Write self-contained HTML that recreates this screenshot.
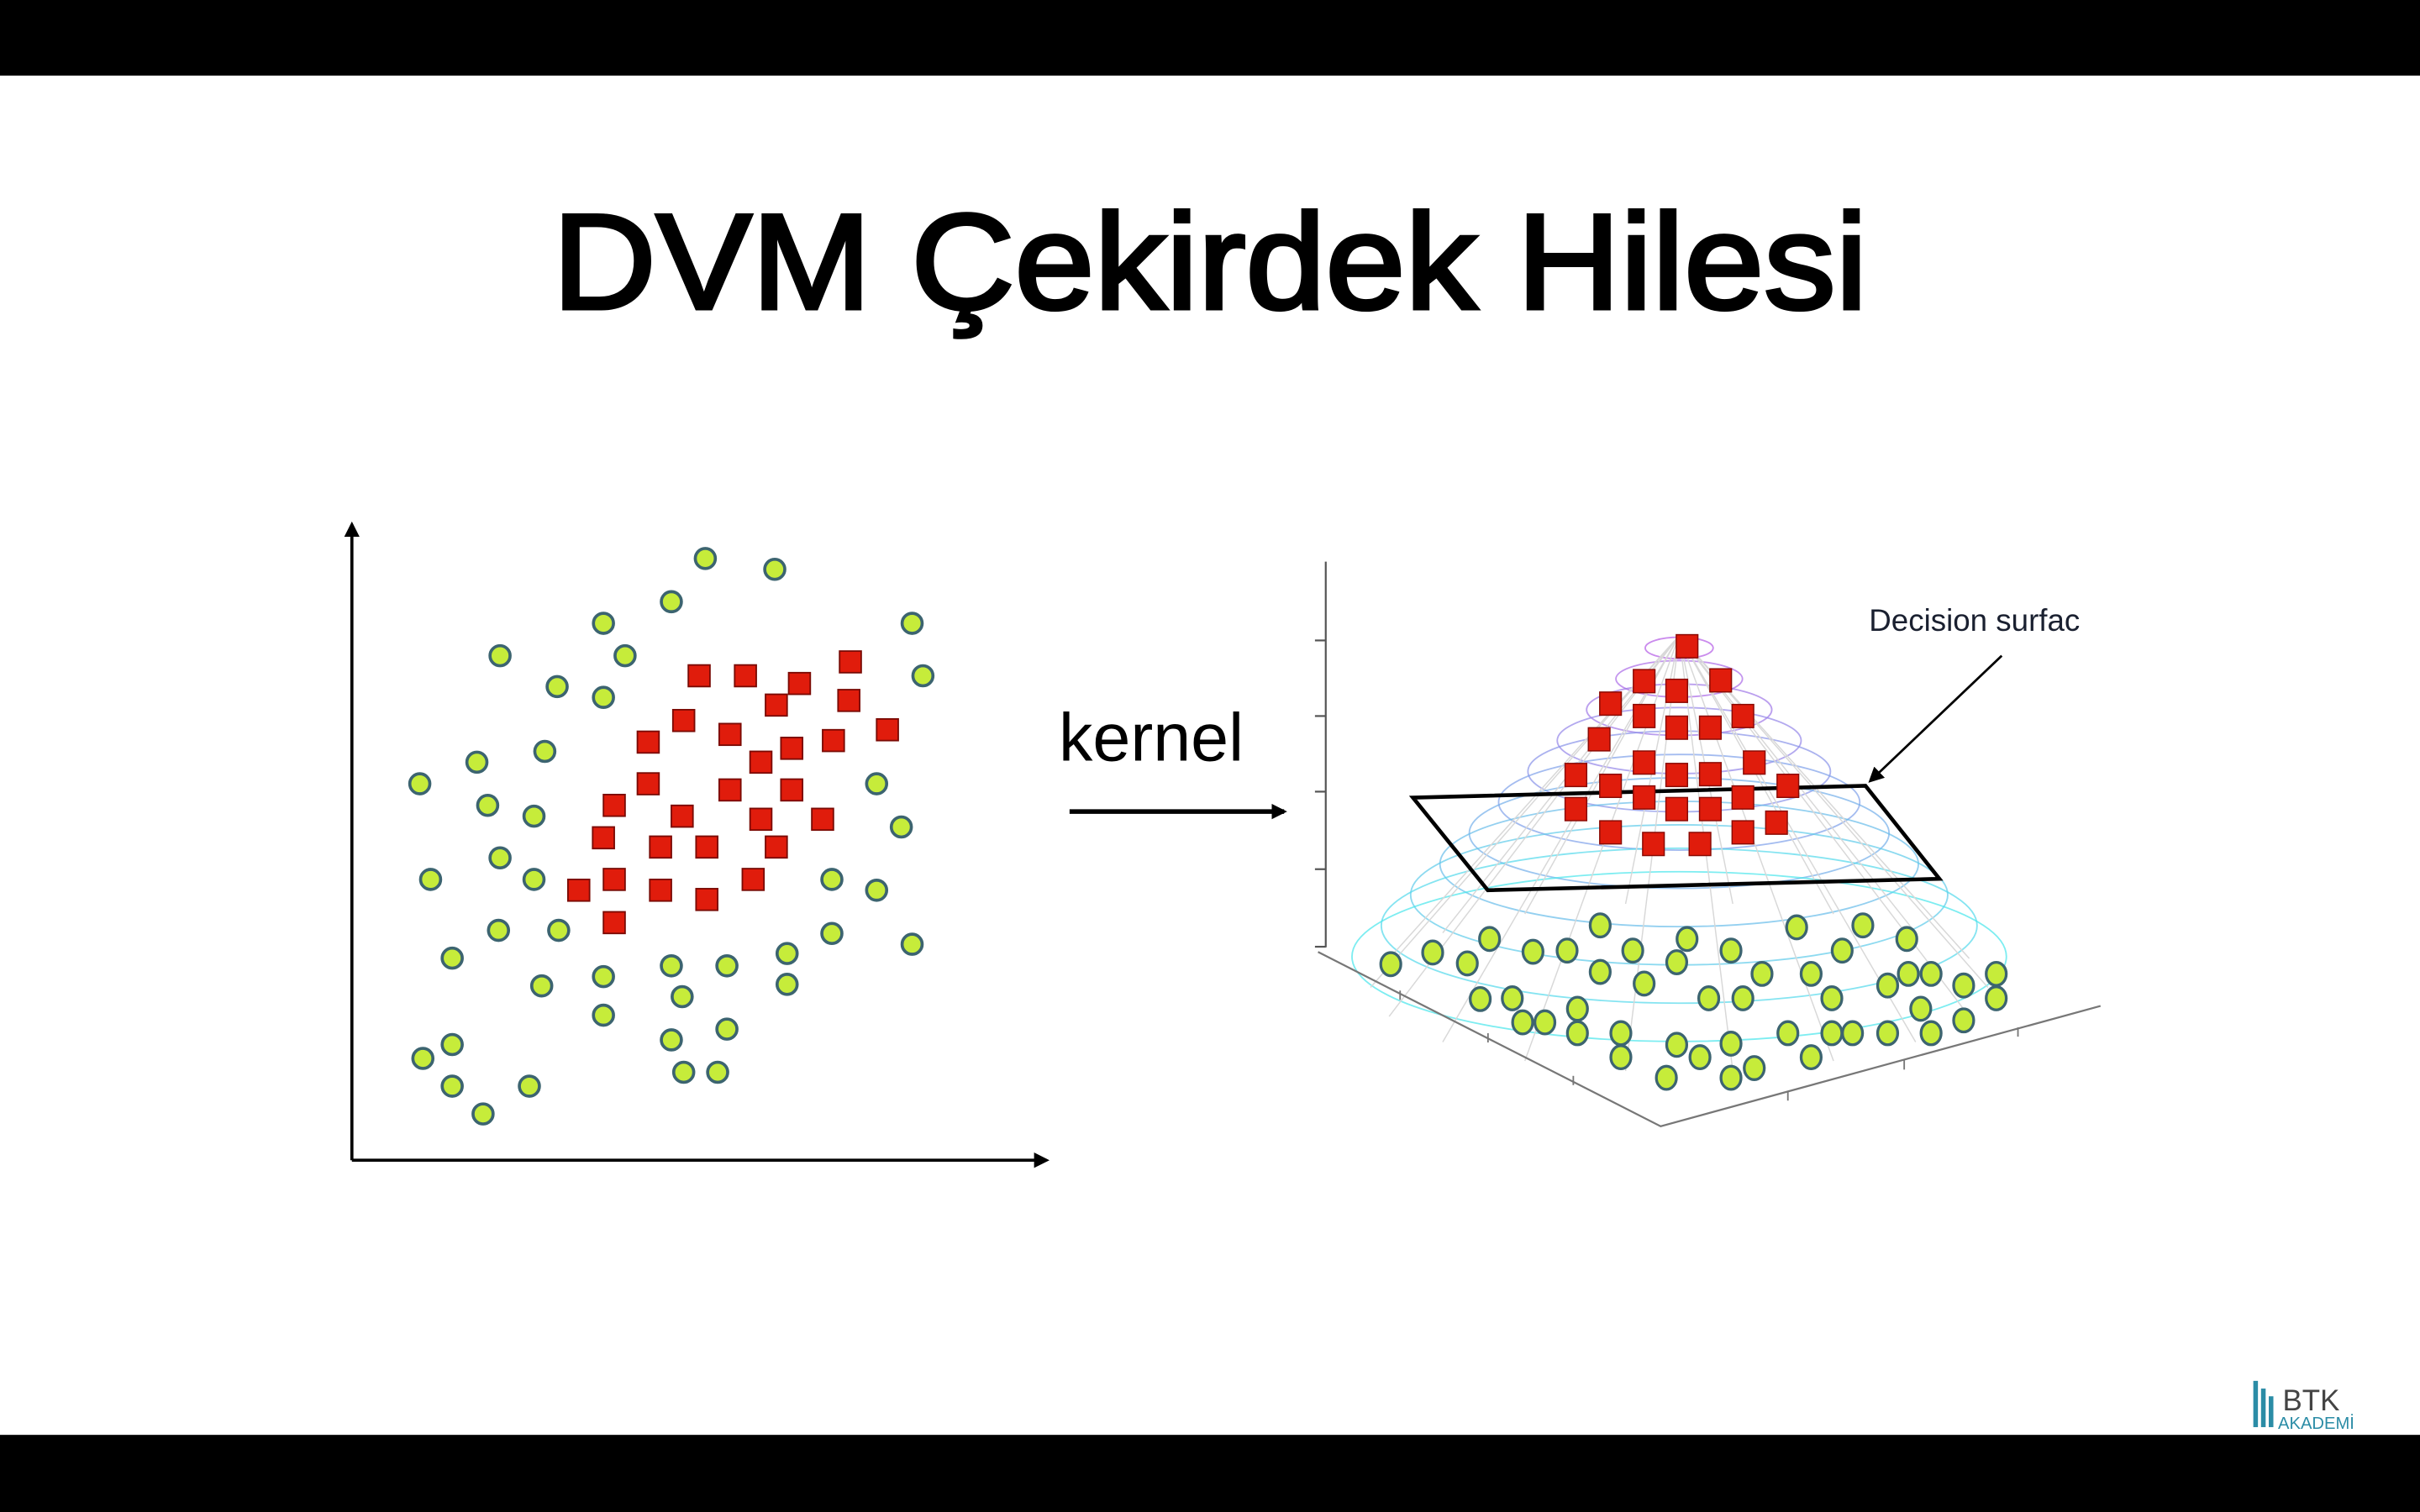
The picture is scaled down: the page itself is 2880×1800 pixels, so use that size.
<!DOCTYPE html>
<html><head><meta charset="utf-8">
<style>
html,body{margin:0;padding:0;background:#fff;}
svg{display:block;}
</style></head>
<body>
<svg id="root" xmlns="http://www.w3.org/2000/svg" width="2880" height="1800" viewBox="0 0 1568 980">
  <defs>
    <marker id="ah" markerWidth="10" markerHeight="10" refX="8" refY="5" orient="auto" markerUnits="userSpaceOnUse"><path d="M0,0 L10,5 L0,10 z" fill="#000"/></marker>
  </defs>
  <rect x="0" y="0" width="1568" height="980" fill="#fff"/>
  <rect x="0" y="0" width="1568" height="49" fill="#000"/>
  <rect x="0" y="930" width="1568" height="50" fill="#000"/>
  <text x="358" y="200" textLength="852" lengthAdjust="spacingAndGlyphs" font-family="'Liberation Sans', sans-serif" font-size="88" fill="#000" stroke="#000" stroke-width="2.4">DVM Çekirdek Hilesi</text>

  <g id="left">
    <line x1="228" y1="752" x2="228" y2="340" stroke="#000" stroke-width="2" marker-end="url(#ah)"/>
    <line x1="228" y1="752" x2="678" y2="752" stroke="#000" stroke-width="2" marker-end="url(#ah)"/>
  </g>

  <text x="686" y="493" font-family="'Liberation Sans', sans-serif" font-size="44" fill="#000">kernel</text>
  <line x1="693" y1="526" x2="832" y2="526" stroke="#000" stroke-width="3" marker-end="url(#ah)"/>

  <g id="right">
    <g id="mesh"></g>
    <line x1="859" y1="364" x2="859" y2="614" stroke="#555" stroke-width="1.2"/>
    <g id="zticks"></g>
    <polyline points="854,617 1076,730 1361,652" fill="none" stroke="#777" stroke-width="1.2"/>
    <g id="fticks"></g>
    <g id="greens3d"></g>
    <polygon points="915.5,517 1208.7,509.3 1256.6,569.6 964,577" fill="none" stroke="#000" stroke-width="2.5"/>
    <g id="reds3d"></g>
    <line x1="1297" y1="425" x2="1212" y2="506" stroke="#000" stroke-width="1.5" marker-end="url(#ah)"/>
    <text x="1211" y="409" font-family="'Liberation Sans', sans-serif" font-size="20" fill="#1a2030">Decision surfac</text>
    <rect x="1357" y="380" width="30" height="40" fill="#fff"/>
  </g>

  <g>
    <rect x="1460" y="895" width="3" height="30" fill="#2b8ca6"/>
    <rect x="1465" y="900" width="3" height="25" fill="#2b8ca6"/>
    <rect x="1470" y="905" width="3" height="20" fill="#2b8ca6"/>
    <text x="1479" y="914" font-family="'Liberation Sans', sans-serif" font-size="19" fill="#444">BTK</text>
    <text x="1476" y="926" font-family="'Liberation Sans', sans-serif" font-size="11" fill="#2b8ca6">AKADEMİ</text>
  </g>
</svg>
<script>
var NS = "http://www.w3.org/2000/svg";
// Left plot data (units: offset from origin, y up)
var greenX = [229,274,207,163,363,96,177,370,133,163,125,81,44,340,88,118,356,96,51,118,311,340,95,134,311,363,65,282,163,207,243,282,123,214,163,243,207,65,46,215,237,65,115,85];
var greenY = [390,383,362,348,348,327,327,314,307,300,265,258,244,244,230,223,216,196,182,182,182,175,149,149,147,140,131,134,119,126,126,114,113,106,94,85,78,75,66,57,57,48,48,30];
var redX = [225,255,290,323,275,322,215,245,192,347,285,312,265,192,245,285,170,214,305,265,163,200,230,275,147,170,200,230,260,170];
var redY = [314,314,309,323,295,298,285,276,271,279,267,272,258,244,240,240,230,223,221,221,209,203,203,203,175,182,175,169,182,154];
// Right plot data (image units of the 3D projection)
var red3dU = [760,677,825,740,612,677,740,805,868,590,677,545,740,805,890,612,677,868,955,545,740,805,612,695,785,868,933];
var red3dV = [280,370,368,395,428,460,490,490,460,520,580,612,612,610,580,640,670,670,640,700,700,700,760,790,790,760,735];
var green3dU = [187,268,335,378,462,528,592,655,760,845,972,1100,1185,1060,740,592,677,905,1000,1148,1188,1232,1295,1358,1358,360,422,442,485,548,548,632,632,740,785,845,802,868,1040,955,1040,1080,1148,1212,1232,1295,1000,720,845,890];
var green3dV = [1100,1070,1098,1035,1068,1065,1000,1065,1035,1065,1005,1000,1035,1065,1095,1120,1150,1125,1125,1155,1125,1125,1155,1125,1188,1190,1188,1250,1250,1215,1278,1278,1340,1308,1340,1305,1188,1188,1188,1278,1278,1278,1278,1215,1278,1245,1340,1393,1393,1368];
var zTicks = [265,460,655,855,1055];

function xL(v){ return 228 + v; }
function yL(v){ return 752 - v; }
function xR(u){ return 838.5 + u*0.335; }
function yR(v){ return 348.5 + v*0.2513; }

function mk(tag, attrs, parent){
  var e = document.createElementNS(NS, tag);
  for (var k in attrs) e.setAttribute(k, attrs[k]);
  parent.appendChild(e);
  return e;
}
var left = document.getElementById('left');
for (var i=0;i<greenX.length;i++){
  var c = mk('circle',{cx:xL(greenX[i]),cy:yL(greenY[i]),r:6.5,fill:'#c6ec3a',stroke:'#3c6470','stroke-width':2},left);
  
  
}
for (var i=0;i<redX.length;i++){
  var r = mk('rect',{x:xL(redX[i])-7,y:yL(redY[i])-7,width:14,height:14,fill:'#e01c0c',stroke:'#7a0a04','stroke-width':1},left);
  
  
}
// mesh
var mesh = document.getElementById('mesh');
for (var i=0;i<11;i++){
  var t = i/10;
  var col = 'rgb(' + Math.round(180-110*t) + ',' + Math.round(90+140*t) + ',' + Math.round(230+5*t) + ')';
  var el = mk('ellipse',{cx:1088,cy:420+t*200,rx:22+t*190,ry:7+t*48,fill:'none',stroke:col,'stroke-width':1,opacity:0.7},mesh);
  
  
}
for (var i=0;i<18;i++){
  var a = i/18*Math.PI*2;
  var ex = 1088 + Math.cos(a)*200, ey = 640 + Math.sin(a)*55;
  var ln = mk('line',{x1:1088,y1:412,x2:ex,y2:ey,stroke:'#d8d8d8','stroke-width':0.8},mesh);
  
  
}
var zt = document.getElementById('zticks');
for (var i=0;i<zTicks.length;i++){
  var tk = mk('line',{x1:852,y1:yR(zTicks[i]),x2:859,y2:yR(zTicks[i]),stroke:'#555','stroke-width':1.2},zt);
  
  
}
var ft = document.getElementById('fticks');
var ftU=[205,375,540,955,1180,1400], ftV=[1180,1290,1400,1440,1360,1275];
for (var i=0;i<ftU.length;i++){
  var f = mk('line',{x1:xR(ftU[i]),y1:yR(ftV[i])-3,x2:xR(ftU[i]),y2:yR(ftV[i])+3,stroke:'#777','stroke-width':1},ft);
  
  
}
var g3 = document.getElementById('greens3d');
for (var i=0;i<green3dU.length;i++){
  var e = mk('ellipse',{cx:xR(green3dU[i]),cy:yR(green3dV[i]),rx:6.5,ry:7.5,fill:'#c6ec3a',stroke:'#3c6470','stroke-width':1.8},g3);
  
  
}
var r3 = document.getElementById('reds3d');
for (var i=0;i<red3dU.length;i++){
  var s = mk('rect',{x:xR(red3dU[i])-7,y:yR(red3dV[i])-7.5,width:14,height:15,fill:'#e01c0c',stroke:'#8a0a04','stroke-width':0.8},r3);
  
  
}
</script>
</body></html>
